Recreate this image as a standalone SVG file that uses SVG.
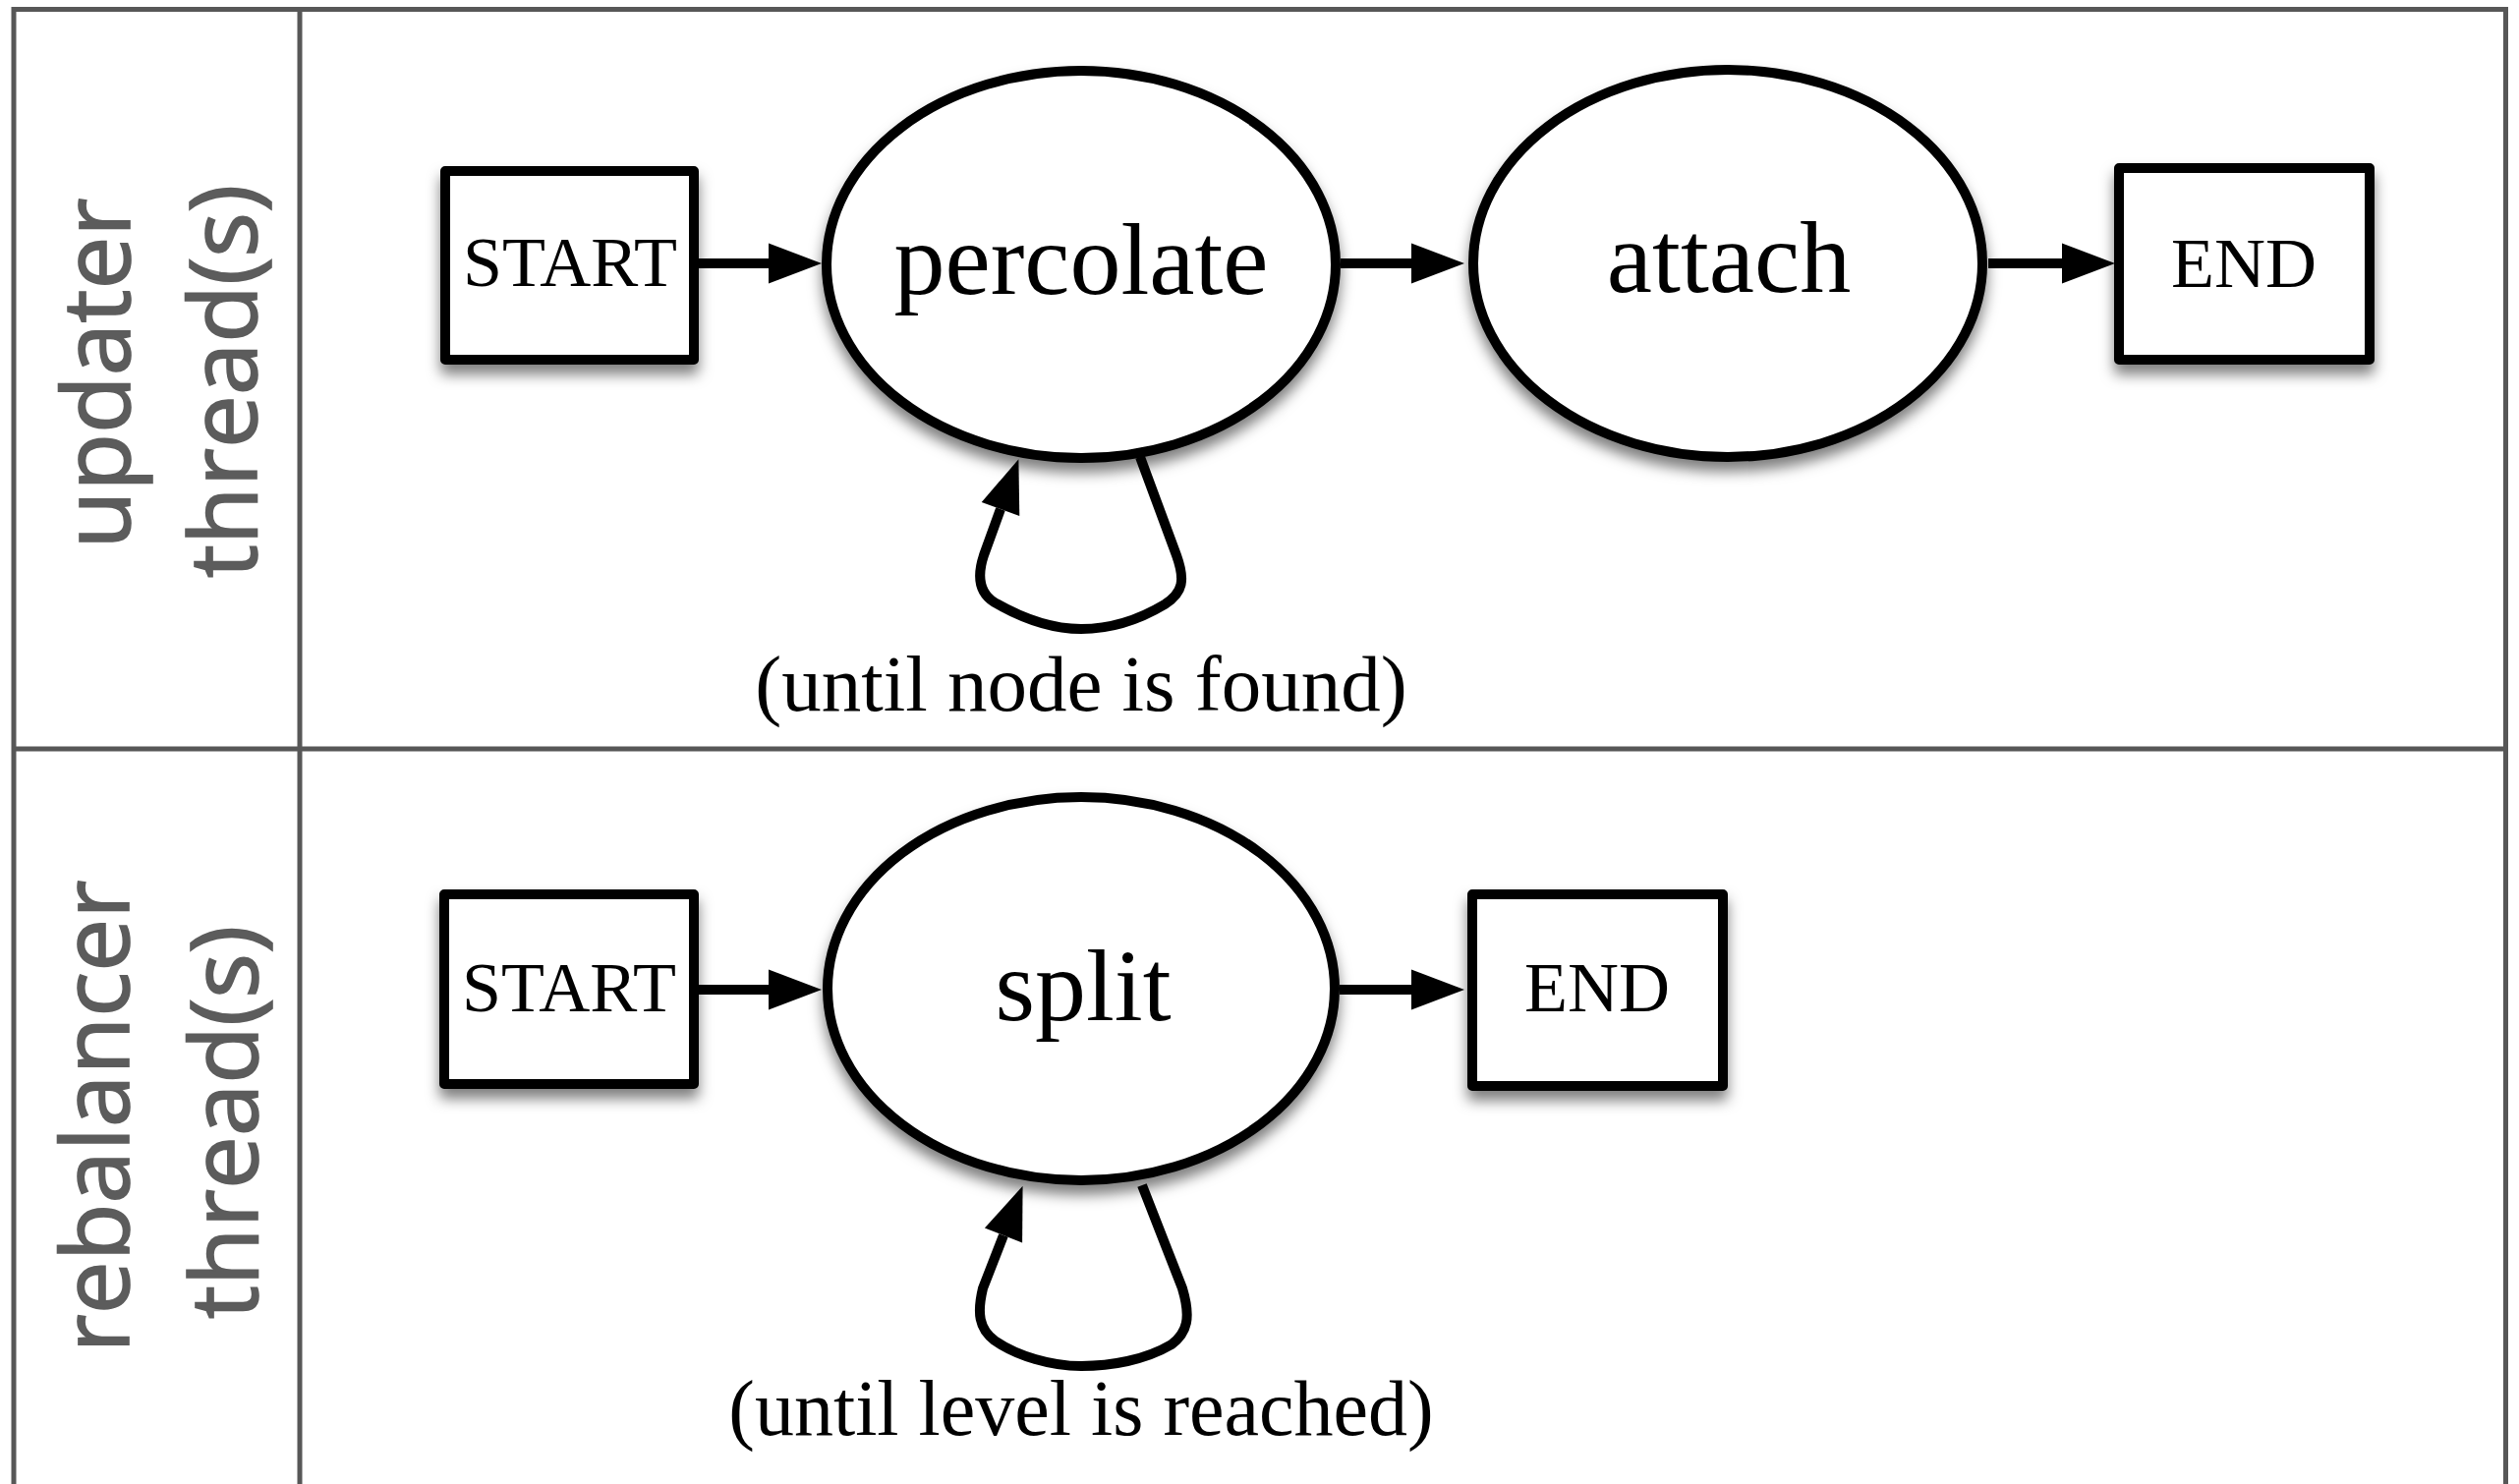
<svg xmlns="http://www.w3.org/2000/svg" width="2563" height="1510" viewBox="0 0 2563 1510">
<style>
.frame{stroke:#575757;stroke-width:5;fill:none}
.lane{font-family:"Open Sans","DejaVu Sans",sans-serif;font-size:96px;fill:#5c5c5c;stroke:#5c5c5c;stroke-width:1.6;text-anchor:middle}
.box{fill:#fff;stroke:#000;stroke-width:10;stroke-linejoin:round}
.ell{fill:#fff;stroke:#000;stroke-width:10}
.t{font-family:"Liberation Serif","Times New Roman",serif;fill:#000;text-anchor:middle}
.tb{font-size:72px}
.te{font-size:104px}
.tl{font-size:80px}
.tl1{font-size:81px}
.con{fill:none;stroke:#000;stroke-width:10;marker-end:url(#arr)}
</style>
<defs>
<marker id="arr" markerUnits="userSpaceOnUse" orient="auto" refX="0" refY="20.5" markerWidth="54" markerHeight="41" viewBox="0 0 54 41" overflow="visible">
<path d="M0,0 L54,20.5 L0,41 Z" fill="#000"/>
</marker>
<filter id="sh" x="-20%" y="-20%" width="140%" height="150%">
<feDropShadow dx="0" dy="10" stdDeviation="7" flood-color="#000" flood-opacity="0.5"/>
</filter>
</defs>
<rect width="2563" height="1510" fill="#fff"/>
<g id="lanes">
<path class="frame" d="M14,1510 L14,9.5 L2549.5,9.5 L2549.5,1510 M305,9.5 L305,1510 M14,762 L2549.5,762"/>
<text class="lane" transform="translate(132,380) rotate(-90)">updater</text>
<text class="lane" transform="translate(261,388) rotate(-90)">thread(s)</text>
<text class="lane" transform="translate(131,1136) rotate(-90)">rebalancer</text>
<text class="lane" transform="translate(262,1142) rotate(-90)">thread(s)</text>
</g>
<g id="connectors">
<path class="con" d="M711,268 L782,268"/>
<path class="con" d="M1364,268 L1436,268"/>
<path class="con" d="M2023,268 L2098,268"/>
<path class="con" transform="translate(1100,268)" d="M60,197 L97,297 C106,322 104,335 85,347 C60,362 30,372 0,372 C-30,372 -62,360 -88,345 C-104,335 -106,318 -99,297 L-82,250"/>
<path class="con" d="M711,1007 L782,1007"/>
<path class="con" d="M1363,1007 L1436,1007"/>
<path class="con" transform="translate(1100,1006)" d="M62,200 L103,305 C112,335 108,350 92,362 C65,378 30,384 0,384 C-30,384 -65,374 -88,358 C-104,346 -106,330 -100,305 L-79,251"/>
</g>
<g id="start1">
<rect class="box" filter="url(#sh)" x="453" y="174" width="253" height="192"/>
<text class="t tb" x="580" y="291">START</text>
</g>
<g id="percolate">
<ellipse class="ell" filter="url(#sh)" cx="1100" cy="269" rx="259" ry="197"/>
<text class="t te" x="1100" y="299">percolate</text>
</g>
<g id="attach">
<ellipse class="ell" filter="url(#sh)" cx="1758" cy="268" rx="259" ry="197"/>
<text class="t te" x="1759" y="297">attach</text>
</g>
<g id="end1">
<rect class="box" filter="url(#sh)" x="2156" y="171" width="255" height="195"/>
<text class="t tb" x="2283" y="292">END</text>
</g>
<g id="label1">
<text class="t tl1" x="1100" y="723">(until node is found)</text>
</g>
<g id="start2">
<rect class="box" filter="url(#sh)" x="452" y="910" width="254" height="193"/>
<text class="t tb" x="579" y="1029">START</text>
</g>
<g id="split">
<ellipse class="ell" filter="url(#sh)" cx="1100" cy="1006" rx="258" ry="195"/>
<text class="t te" x="1102" y="1038">split</text>
</g>
<g id="end2">
<rect class="box" filter="url(#sh)" x="1498" y="910" width="255" height="195"/>
<text class="t tb" x="1625" y="1029">END</text>
</g>
<g id="label2">
<text class="t tl" x="1100" y="1460">(until level is reached)</text>
</g>
</svg>
